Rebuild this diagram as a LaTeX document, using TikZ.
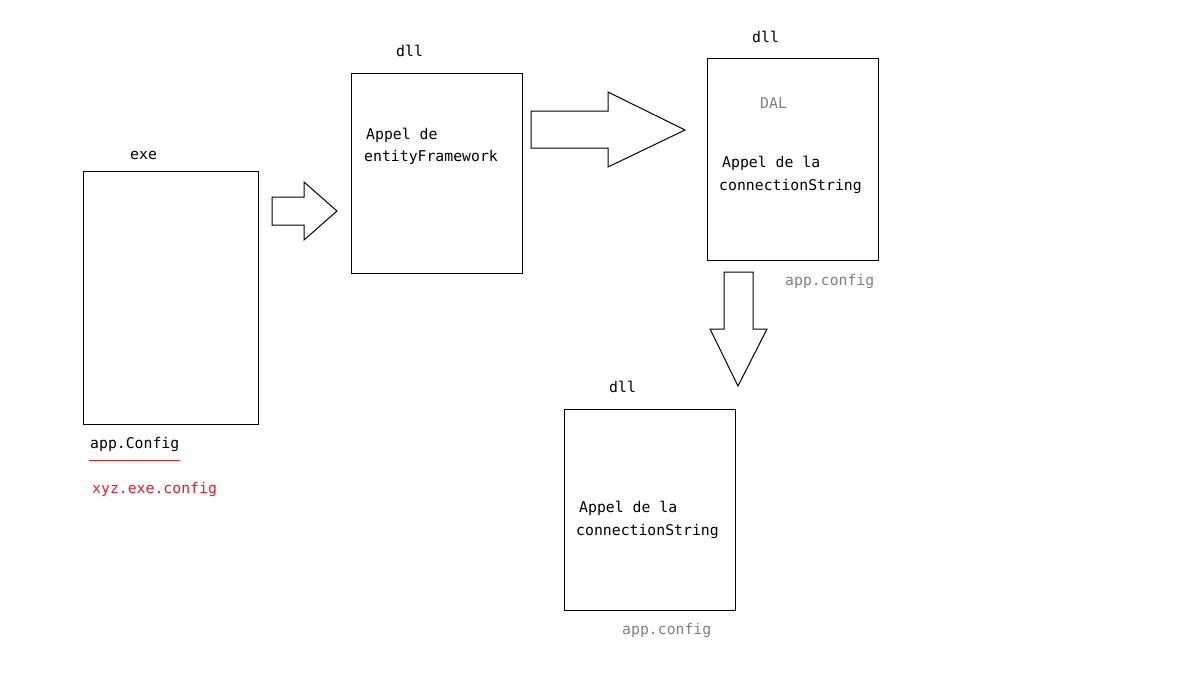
\documentclass[tikz,border=0pt]{standalone}
\usepackage{fontspec}
\setmonofont{DejaVu Sans Mono}
\usepackage{xcolor}
\usetikzlibrary{positioning}
\definecolor{cfggray}{rgb}{0.5,0.5,0.5}
\definecolor{cfgred}{rgb}{0.93,0.11,0.14}

\begin{document}
\begin{tikzpicture}[x=1pt, y=-1pt,
    box/.style={draw, line width=1pt, fill=white},
    txt/.style={inner sep=0pt, anchor=west, font=\fontsize{14.8}{17}\ttfamily}]
      \useasboundingbox (0,0) rectangle (1185,677);

      % exe
      \draw [box] (83,171) rectangle (258,424);
      \node[txt] (exelbl) at (130,155) {exe};
      \node[txt] (appcfg) at (90,444) {app.Config};
      \draw [cfgred, line width=1pt] (89,460) -- (180,460);
      \node[txt, cfgred] (xyzcfg) at (92,489) {xyz.exe.config};

      % first dll
      \draw [box] (351,73) rectangle (522,273);
      \node[txt] (dlla) at (396,51) {dll};
      \node[txt] (ef1) at (366,135) {Appel de};
      \node[txt] (ef2) at (364,157) {entityFramework};

      % second dll (DAL)
      \draw [box] (707,59) rectangle (878,260);
      \node[txt] (dllb) at (752,37) {dll};
      \node[txt, cfggray] (dal) at (760,103) {DAL};
      \node[txt] (csb1) at (722,163) {Appel de la};
      \node[txt] (csb2) at (719,186) {connectionString};
      \node[txt, cfggray] (cfgb) at (785,281) {app.config};

      % third dll
      \draw [box] (564,409) rectangle (735,610);
      \node[txt] (dllc) at (609,387) {dll};
      \node[txt] (csc1) at (579,508) {Appel de la};
      \node[txt] (csc2) at (576,531) {connectionString};
      \node[txt, cfggray] (cfgc) at (622,630) {app.config};

      % block arrows
      \draw [box] (272,197) -- (304,197) -- (304,182) -- (337,211) -- (304,240) -- (304,225) -- (272,225) -- cycle;
      \draw [box] (531,111) -- (608,111) -- (608,92) -- (685,130) -- (608,167) -- (608,148) -- (531,148) -- cycle;
      \draw [box] (724,272) -- (753,272) -- (753,329) -- (767,329) -- (738,386) -- (710,329) -- (724,329) -- cycle;
    \end{tikzpicture}
\end{document}
